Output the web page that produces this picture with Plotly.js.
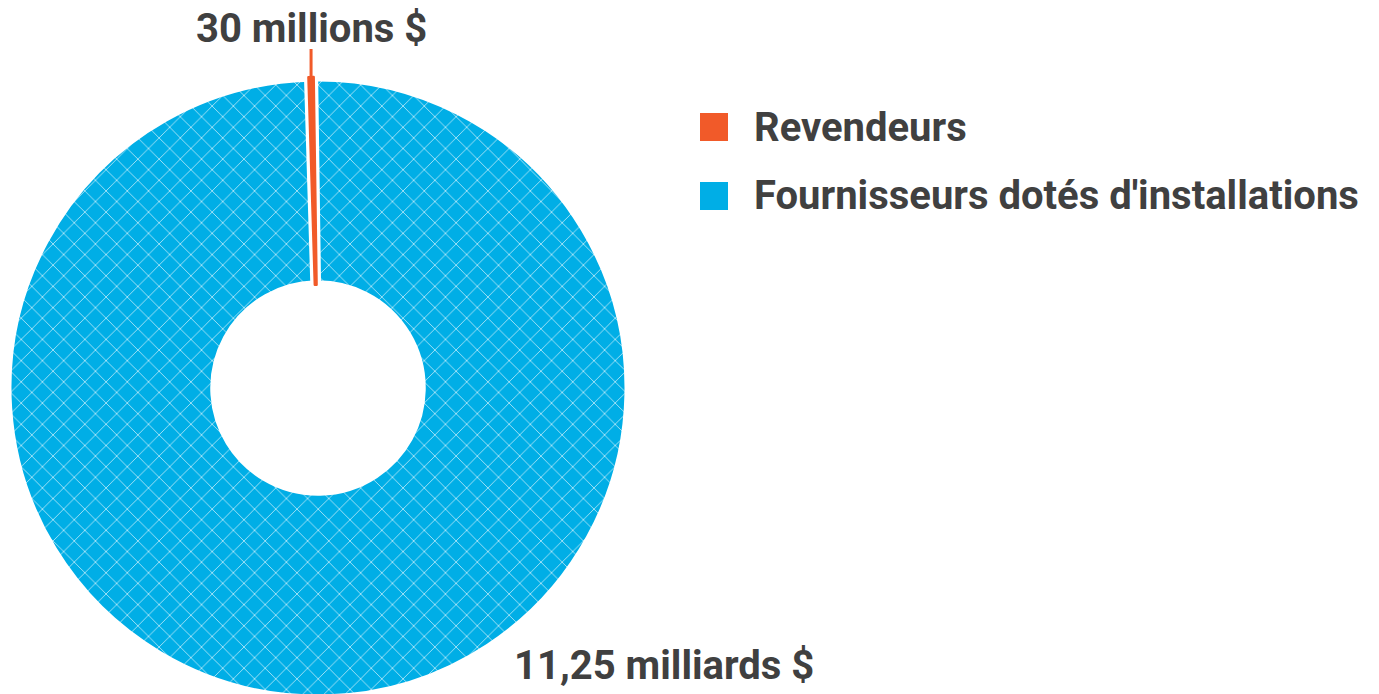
<!DOCTYPE html>
<html>
<head>
<meta charset="utf-8">
<script src="https://cdn.plot.ly/plotly-3.0.1.min.js"></script>
<style>html,body{margin:0;padding:0;background:#fff;overflow:hidden;}#chart{width:1379px;height:704px;}</style>
</head>
<body>
<div id="chart"></div>
<script>
const labels = ['Revendeurs', "Fournisseurs dotés d'installations"];
const values = [30, 11250]; // millions $
const valueLabels = ['30 millions $', '11,25 milliards $'];
const colors = ['#F15A29', '#00AEE6'];

const W = 1379, H = 704; // slightly taller than the 694px window so the ring may touch the bottom edge
const FONT = 'Roboto, "Open Sans", sans-serif';
const TXT = '#404040';
const px = x => x / W;
const py = y => (H - y) / H;

const cx = 318, cy = 388, R = 311;
const rotation = -0.8;

// draw the large slice first so the small one sits on top of its white border
const order = [1, 0];
const total = values.reduce((a, b) => a + b, 0);
const midAngle0 = (rotation - (values[0] / total) * 360 / 2) * Math.PI / 180;
const lblX = cx + R * Math.sin(midAngle0);
const tipY = cy - (R - 2) * Math.cos(midAngle0);

const trace = {
  type: 'pie',
  labels: order.map(i => labels[i]),
  values: order.map(i => values[i]),
  sort: false,
  direction: 'counterclockwise',
  rotation: rotation,
  hole: 0.332,
  textinfo: 'none',
  showlegend: false,
  domain: {x: [px(cx - R), px(cx + R)], y: [py(cy + R), py(cy - R)]},
  marker: {
    colors: order.map(i => colors[i]),
    line: {color: ['#ffffff', colors[0]], width: [9, 2.5]},
    pattern: {shape: ['x', ''], bgcolor: order.map(i => colors[i]), fgcolor: '#ffffff', fgopacity: 0.65, size: 15, solidity: 0.12}
  }
};

const shapes = [
  {type: 'line', xref: 'paper', yref: 'paper', x0: px(lblX), x1: px(lblX), y0: py(49), y1: py(tipY), line: {color: colors[0], width: 3}},
  {type: 'rect', xref: 'paper', yref: 'paper', x0: px(700), x1: px(728), y0: py(141), y1: py(113), fillcolor: colors[0], line: {width: 0}},
  {type: 'rect', xref: 'paper', yref: 'paper', x0: px(700), x1: px(728), y0: py(210), y1: py(182), fillcolor: colors[1], line: {width: 0}}
];

const F = {family: FONT, size: 40, color: TXT, weight: 700};
const annotations = [
  {xref: 'paper', yref: 'paper', x: px(lblX), y: py(28), xanchor: 'center', yanchor: 'middle', text: valueLabels[0], showarrow: false, font: F},
  {xref: 'paper', yref: 'paper', x: px(664), y: py(665), xanchor: 'center', yanchor: 'middle', text: valueLabels[1], showarrow: false, font: F},
  {xref: 'paper', yref: 'paper', x: px(752), y: py(127), xanchor: 'left', yanchor: 'middle', text: labels[0], showarrow: false, font: F},
  {xref: 'paper', yref: 'paper', x: px(752), y: py(195), xanchor: 'left', yanchor: 'middle', text: labels[1], showarrow: false, font: F}
];

const layout = {
  width: W, height: H,
  margin: {l: 0, r: 0, t: 0, b: 0},
  paper_bgcolor: '#ffffff',
  showlegend: false,
  shapes: shapes,
  annotations: annotations
};

Plotly.newPlot('chart', [trace], layout, {displayModeBar: false});
</script>
</body>
</html>
